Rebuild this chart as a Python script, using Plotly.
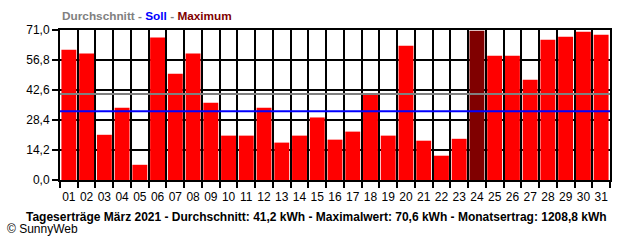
import plotly.graph_objects as go

days = [f"{d:02d}" for d in range(1, 32)]
values = [61.7, 59.9, 21.4, 34.2, 7.2, 67.4, 50.3, 59.9, 36.6, 21.0,
          21.0, 34.2, 17.7, 21.0, 29.6, 19.1, 22.9, 40.4, 21.0, 63.6,
          18.6, 11.5, 19.5, 70.6, 58.8, 58.8, 47.5, 66.4, 67.8, 70.2, 68.8]
average_value = 40.7
target_value = 32.5
y_ticks = [0.0, 14.2, 28.4, 42.6, 56.8, 71.0]
y_ticktext = ["0,0", "14,2", "28,4", "42,6", "56,8", "71,0"]

xpos = list(range(1, len(days) + 1))
max_idx = values.index(max(values))
colors = ["#800000" if i == max_idx else "#FF0000" for i in range(len(values))]

FONT = "Liberation Sans"

fig = go.Figure()
fig.add_trace(go.Bar(x=xpos, y=values, marker=dict(color=colors, line=dict(width=0)),
                     width=0.84, hoverinfo="skip"))

# average and target lines (drawn above bars)
fig.add_shape(type="line", xref="paper", x0=0, x1=1, yref="y", y0=average_value, y1=average_value,
              line=dict(color="#808080", width=2), layer="above")
fig.add_shape(type="line", xref="paper", x0=0, x1=1, yref="y", y0=target_value, y1=target_value,
              line=dict(color="#0000FF", width=2), layer="above")

fig.update_layout(
    width=640, height=240,
    margin=dict(l=60, r=30, t=30, b=60),
    paper_bgcolor="white", plot_bgcolor="white",
    showlegend=False,
    font=dict(family=FONT, size=12, color="black"),
    xaxis=dict(
        range=[0.5, len(days) + 0.5],
        tickvals=xpos, ticktext=days,
        ticks="outside", ticklen=5, tickwidth=1, tickcolor="rgba(255,255,255,0)",
        showgrid=False, zeroline=False,
        showline=True, mirror=True, linecolor="black", linewidth=2,
        tickfont=dict(family=FONT, size=12, color="black"),
        minor=dict(tickvals=[x + 0.5 for x in range(0, len(days) + 1)], ticks="outside",
                   ticklen=6, tickwidth=2, tickcolor="black",
                   showgrid=True, gridcolor="black", gridwidth=2),
        fixedrange=True,
    ),
    yaxis=dict(
        range=[0, 71.0],
        tickvals=y_ticks, ticktext=y_ticktext,
        ticks="outside", ticklen=6, tickwidth=2, tickcolor="black",
        showgrid=True, gridcolor="black", gridwidth=2, zeroline=False,
        showline=True, mirror=True, linecolor="black", linewidth=2,
        tickfont=dict(family=FONT, size=12, color="black"),
        fixedrange=True,
    ),
)

fig.add_annotation(
    xref="paper", yref="paper", x=0, y=1, xshift=0, yshift=14, xanchor="left", yanchor="middle",
    showarrow=False,
    text="<b><span style='color:#808080'>Durchschnitt - </span><span style='color:#0000FF'>Soll</span>"
         "<span style='color:#808080'> - </span><span style='color:#800000'>Maximum</span></b>",
    font=dict(family=FONT, size=11.8),
)
fig.add_annotation(
    xref="paper", yref="paper", x=0, y=0, xshift=-36, yshift=-37, xanchor="left", yanchor="middle",
    showarrow=False,
    text="<b>Tageserträge März 2021 - Durchschnitt: 41,2 kWh - Maximalwert: 70,6 kWh - Monatsertrag: 1208,8 kWh</b>",
    font=dict(family=FONT, size=12, color="black"),
)
fig.add_annotation(
    xref="paper", yref="paper", x=0, y=0, xshift=-55, yshift=-49, xanchor="left", yanchor="middle",
    showarrow=False,
    text="© SunnyWeb",
    font=dict(family=FONT, size=12, color="black"),
)

fig.write_html("out.html", config={"displayModeBar": False})
